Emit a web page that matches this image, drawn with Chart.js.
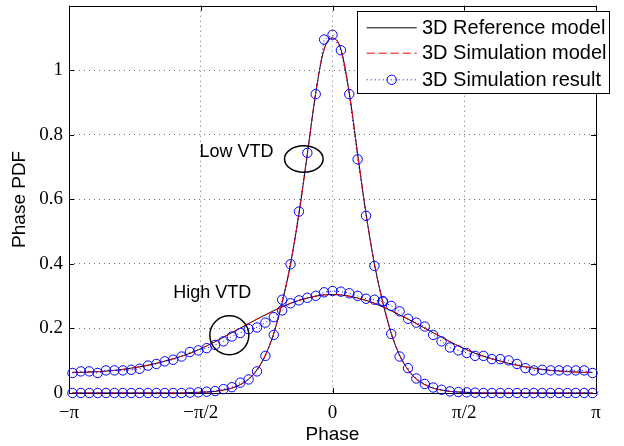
<!DOCTYPE html>
<html lang="en">
<head>
  <meta charset="UTF-8">
  <title>Phase PDF</title>
  <script src="https://cdn.jsdelivr.net/npm/chart.js"></script>
  <style>
    html, body { margin: 0; padding: 0; background: #fff; }
    canvas { display: block; }
  </style>
</head>
<body>
  <canvas id="pdfChart" width="624" height="446"></canvas>

  <script>
    // phase samples of the simulation result (rad)
    const phase = [
      -3.1, -3.0, -2.9, -2.8, -2.7, -2.6, -2.5, -2.4, -2.3, -2.2, -2.1,
      -2.0, -1.9, -1.8, -1.7, -1.6, -1.5, -1.4, -1.3, -1.2, -1.1,
      -1.0, -0.9, -0.8, -0.7, -0.6, -0.5, -0.4, -0.3, -0.2, -0.1,
      0,
      0.1, 0.2, 0.3, 0.4, 0.5, 0.6, 0.7, 0.8, 0.9, 1.0,
      1.1, 1.2, 1.3, 1.4, 1.5, 1.6, 1.7, 1.8, 1.9, 2.0,
      2.1, 2.2, 2.3, 2.4, 2.5, 2.6, 2.7, 2.8, 2.9, 3.0, 3.1
    ];

    // model curves (reference and simulation model overlap)
    const modelLow = [
      0, 0, 0, 0, 0, 0, 0, 0, 0, 0, 0,
      0, 0, 0, 0.001, 0.002, 0.003, 0.005, 0.009, 0.015, 0.026,
      0.043, 0.072, 0.117, 0.185, 0.280, 0.400, 0.555, 0.740, 0.930, 1.065,
      1.100,
      1.065, 0.930, 0.740, 0.555, 0.400, 0.280, 0.185, 0.117, 0.072, 0.043,
      0.026, 0.015, 0.009, 0.005, 0.003, 0.002, 0.001, 0, 0, 0,
      0, 0, 0, 0, 0, 0, 0, 0, 0, 0, 0
    ];
    const modelHigh = [
      0.064, 0.064, 0.065, 0.066, 0.068, 0.070, 0.073, 0.077, 0.081, 0.086, 0.092,
      0.099, 0.106, 0.114, 0.123, 0.134, 0.146, 0.159, 0.173, 0.187, 0.201,
      0.215, 0.229, 0.242, 0.255, 0.267, 0.278, 0.287, 0.294, 0.300, 0.304,
      0.305,
      0.304, 0.300, 0.294, 0.287, 0.278, 0.267, 0.255, 0.242, 0.229, 0.215,
      0.201, 0.187, 0.173, 0.159, 0.146, 0.134, 0.123, 0.114, 0.106, 0.099,
      0.092, 0.086, 0.081, 0.077, 0.073, 0.070, 0.068, 0.066, 0.065, 0.064, 0.064
    ];

    // simulation result (circles)
    const simLow = [
      0, 0, 0, 0, 0, 0, 0, 0, 0, 0, 0,
      0, 0, 0, 0.001, 0.002, 0.004, 0.006, 0.012, 0.018, 0.032,
      0.042, 0.067, 0.115, 0.180, 0.289, 0.399, 0.562, 0.744, 0.926, 1.095,
      1.110,
      1.062, 0.926, 0.724, 0.549, 0.394, 0.285, 0.183, 0.113, 0.077, 0.045,
      0.028, 0.017, 0.010, 0.005, 0.003, 0.002, 0.001, 0, 0, 0,
      0, 0, 0, 0, 0, 0, 0, 0, 0, 0, 0
    ];
    const simHigh = [
      0.062, 0.067, 0.067, 0.062, 0.070, 0.070, 0.070, 0.072, 0.075, 0.085, 0.090,
      0.098, 0.103, 0.113, 0.127, 0.132, 0.139, 0.149, 0.160, 0.175, 0.186,
      0.198, 0.203, 0.218, 0.235, 0.256, 0.278, 0.287, 0.295, 0.301, 0.312,
      0.316,
      0.314, 0.309, 0.301, 0.292, 0.289, 0.283, 0.270, 0.253, 0.230, 0.218,
      0.206, 0.180, 0.160, 0.141, 0.132, 0.124, 0.115, 0.115, 0.105, 0.105,
      0.101, 0.090, 0.077, 0.070, 0.072, 0.070, 0.070, 0.070, 0.070, 0.070, 0.062
    ];

    const xTickVals = [-Math.PI, -Math.PI / 2, 0, Math.PI / 2, Math.PI];
    const xTickLabels = ['\u2212\u03c0', '\u2212\u03c0/2', '0', '\u03c0/2', '\u03c0'];
    const yTickVals = [0, 0.2, 0.4, 0.6, 0.8, 1];
    const yTickLabels = ['0', '0.2', '0.4', '0.6', '0.8', '1'];

    const legendLabels = ['3D Reference model', '3D Simulation model', '3D Simulation result'];

    const BLUE = '#0000ff', RED = '#ff0000', BLACK = '#000000';
    const serif = '"Liberation Serif", "Times New Roman", serif';
    const sans = '"Liberation Sans", Arial, sans-serif';

    function pts(ys) {
      return phase.map((x, i) => ({ x: x, y: ys[i] }));
    }

    function simSet(ys) {
      return {
        data: pts(ys), borderColor: BLUE, borderWidth: 1, borderDash: [1, 3],
        pointStyle: 'circle', pointRadius: 4.7, pointBorderWidth: 1,
        pointBorderColor: BLUE, pointBackgroundColor: 'rgba(0,0,0,0)',
        fill: false, clip: false, tension: 0
      };
    }
    function modelSet(ys, color, dash) {
      return {
        data: pts(ys), borderColor: color, borderWidth: 1, borderDash: dash,
        pointRadius: 0, fill: false, clip: false, cubicInterpolationMode: 'monotone'
      };
    }

    // box, inward ticks, notes and legend
    const decor = {
      id: 'decor',
      beforeDatasetsDraw(chart) {
        const { ctx, chartArea: a, scales: { x, y } } = chart;
        ctx.save();
        ctx.strokeStyle = BLACK;
        ctx.lineWidth = 1;
        ctx.beginPath();
        for (const v of xTickVals) {
          const px = Math.round(x.getPixelForValue(v)) + 0.5;
          ctx.moveTo(px, a.bottom); ctx.lineTo(px, a.bottom - 5);
          ctx.moveTo(px, a.top); ctx.lineTo(px, a.top + 5);
        }
        for (const v of yTickVals) {
          const py = Math.round(y.getPixelForValue(v)) + 0.5;
          ctx.moveTo(a.left, py); ctx.lineTo(a.left + 5, py);
          ctx.moveTo(a.right, py); ctx.lineTo(a.right - 5, py);
        }
        ctx.stroke();
        ctx.strokeRect(Math.round(a.left) + 0.5, Math.round(a.top) + 0.5,
          Math.round(a.right - a.left), Math.round(a.bottom - a.top));
        ctx.restore();
      },
      afterDatasetsDraw(chart) {
        const { ctx, scales: { x, y } } = chart;
        ctx.save();
        ctx.strokeStyle = BLACK;
        ctx.lineWidth = 1.5;
        ctx.beginPath();
        ctx.ellipse(x.getPixelForValue(-0.342), y.getPixelForValue(0.725), 19.3, 13.3, 0, 0, 2 * Math.PI);
        ctx.stroke();
        ctx.beginPath();
        ctx.ellipse(x.getPixelForValue(-1.23), y.getPixelForValue(0.179), 19.5, 19.5, 0, 0, 2 * Math.PI);
        ctx.stroke();
        ctx.fillStyle = BLACK;
        ctx.font = '18px ' + sans;
        ctx.textBaseline = 'middle';
        ctx.textAlign = 'left';
        ctx.fillText('Low VTD', x.getPixelForValue(-1.586), y.getPixelForValue(0.748));
        ctx.fillText('High VTD', x.getPixelForValue(-1.90), y.getPixelForValue(0.311));

        // legend box
        const L = 357.5, T = 11.5, W = 252, H = 82;
        ctx.fillStyle = '#ffffff';
        ctx.fillRect(L, T, W, H);
        ctx.lineWidth = 1;
        ctx.strokeRect(L, T, W, H);
        const rows = [27.3, 52.7, 79.3];
        const styles = [[BLACK, []], [RED, [8, 4]], [BLUE, [1, 3]]];
        rows.forEach((ry, i) => {
          ctx.strokeStyle = styles[i][0];
          ctx.setLineDash(styles[i][1]);
          ctx.beginPath();
          ctx.moveTo(366.7, ry + 0.5); ctx.lineTo(416.7, ry + 0.5);
          ctx.stroke();
          ctx.setLineDash([]);
          if (i === 2) {
            ctx.beginPath();
            ctx.arc(391.7, ry + 0.5, 4.7, 0, 2 * Math.PI);
            ctx.stroke();
          }
          ctx.fillStyle = BLACK;
          ctx.font = '20px ' + sans;
          ctx.fillText(legendLabels[i], 422, ry + 1);
        });
        ctx.restore();
      }
    };

    new Chart(document.getElementById('pdfChart'), {
      type: 'line',
      data: {
        datasets: [
          simSet(simHigh), simSet(simLow),
          modelSet(modelHigh, RED, [8, 4]), modelSet(modelLow, RED, [8, 4]),
          modelSet(modelHigh, BLACK, []), modelSet(modelLow, BLACK, [])
        ]
      },
      options: {
        responsive: false,
        devicePixelRatio: 1,
        animation: false,
        layout: { padding: { left: 0, top: 5, right: 28, bottom: 0 } },
        plugins: { legend: { display: false }, tooltip: { enabled: false } },
        scales: {
          x: {
            type: 'linear', min: -Math.PI, max: Math.PI,
            afterBuildTicks: sc => { sc.ticks = xTickVals.map(v => ({ value: v })); },
            afterFit: sc => { sc.height = 53; sc.paddingLeft = 0; sc.paddingRight = 0; },
            ticks: {
              callback: (v, i) => xTickLabels[i],
              font: { family: serif, size: 19 }, color: BLACK, padding: 9, maxRotation: 0
            },
            grid: { color: '#707070', lineWidth: 1, drawTicks: false },
            border: { display: false, dash: [1, 4] },
            title: {
              display: true, text: 'Phase', color: BLACK,
              font: { family: sans, size: 19 }, padding: { top: 0, bottom: 0 }
            }
          },
          y: {
            type: 'linear', min: 0, max: 1.2,
            afterBuildTicks: sc => { sc.ticks = yTickVals.map(v => ({ value: v })); },
            afterFit: sc => { sc.width = 69; sc.paddingTop = 0; sc.paddingBottom = 0; },
            ticks: {
              callback: (v, i) => yTickLabels[i],
              font: { family: serif, size: 19 }, color: BLACK, padding: 6
            },
            grid: { color: '#707070', lineWidth: 1, drawTicks: false },
            border: { display: false, dash: [1, 4] },
            title: {
              display: true, text: 'Phase PDF', color: BLACK,
              font: { family: sans, size: 19 }, padding: { top: 8, bottom: 0 }
            }
          }
        }
      },
      plugins: [decor]
    });
  </script>
</body>
</html>
